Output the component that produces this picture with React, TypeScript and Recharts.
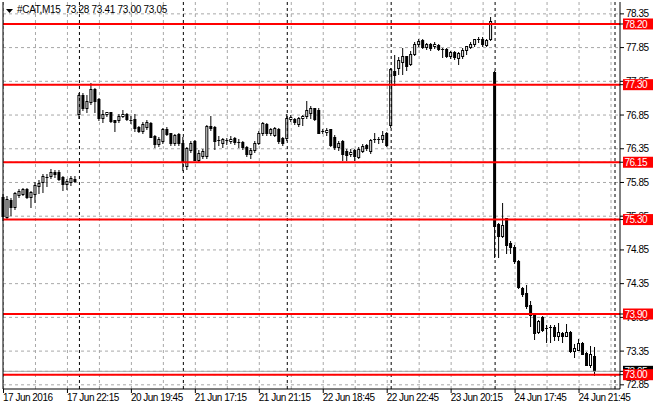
import { ComposedChart, Bar, XAxis, YAxis, ReferenceLine, CartesianGrid } from 'recharts';

// #CAT M15, 17 Jun 18:15 .. 24 Jun 22:45 (2016)
const opens = [
  75.63, 75.34, 75.59, 75.48, 75.67, 75.68, 75.75, 75.63, 75.68, 75.80, 75.85, 75.93, 75.94, 76.00, 76.00, 75.93, 75.83, 75.85, 75.90,
  76.86, 77.14, 76.95, 77.05, 77.23, 77.09, 76.80, 76.86, 76.89, 76.77, 76.77, 76.84, 76.87, 76.77, 76.79, 76.68, 76.62, 76.68, 76.73, 76.54, 76.42, 76.47, 76.65, 76.58, 76.43, 76.57,
  76.44, 76.10, 76.33, 76.46, 76.19, 76.24, 76.24, 76.69, 76.68, 76.48, 76.44, 76.48, 76.47, 76.51, 76.45, 76.45, 76.38, 76.27, 76.33, 76.44, 76.58, 76.72, 76.58, 76.55, 76.64, 76.51,
  76.51, 76.79, 76.79, 76.71, 76.81, 76.83, 76.88, 76.95, 76.93, 76.62, 76.60, 76.64, 76.53, 76.38, 76.46, 76.31, 76.27, 76.33, 76.23, 76.32, 76.40, 76.31, 76.49, 76.50, 76.49, 76.58,
  76.70, 77.50, 77.55, 77.64, 77.72, 77.61, 77.76, 77.91, 77.96, 77.86, 77.91, 77.88, 77.89, 77.83, 77.83, 77.73, 77.78, 77.69, 77.73, 77.82, 77.86, 77.90, 77.96, 77.98, 77.89, 77.97,
  77.49, 75.23, 75.05, 75.32, 74.96, 74.90, 74.68, 74.28, 74.21, 74.03, 73.88, 73.63, 73.85, 73.69, 73.70, 73.70, 73.57, 73.62, 73.58, 73.63, 73.35, 73.37, 73.47, 73.32, 73.14, 73.28,
];
const highs = [
  75.68, 75.65, 75.62, 75.71, 75.75, 75.77, 75.77, 75.72, 75.85, 75.88, 75.97, 75.98, 76.05, 76.03, 76.03, 75.95, 75.90, 75.94, 75.95,
  77.17, 77.17, 77.15, 77.32, 77.25, 77.10, 76.92, 76.90, 76.90, 76.78, 76.86, 76.93, 76.88, 76.83, 76.87, 76.69, 76.74, 76.77, 76.74, 76.56, 76.52, 76.66, 76.67, 76.59, 76.57, 76.58,
  76.52, 76.38, 76.46, 76.48, 76.33, 76.34, 76.70, 76.83, 76.69, 76.54, 76.51, 76.51, 76.54, 76.53, 76.50, 76.47, 76.39, 76.36, 76.46, 76.61, 76.75, 76.73, 76.66, 76.68, 76.66, 76.53,
  76.86, 76.85, 76.80, 76.82, 76.85, 77.06, 76.98, 76.96, 76.95, 76.65, 76.66, 76.65, 76.55, 76.47, 76.48, 76.34, 76.35, 76.35, 76.37, 76.42, 76.42, 76.49, 76.58, 76.53, 76.61, 76.60,
  77.55, 77.74, 77.71, 77.85, 77.73, 77.80, 77.93, 77.97, 77.97, 77.92, 77.92, 77.94, 77.90, 77.84, 77.84, 77.80, 77.80, 77.78, 77.85, 77.88, 77.93, 77.98, 78.00, 78.00, 77.98, 78.30,
  77.50, 75.25, 75.55, 75.33, 74.98, 74.92, 74.70, 74.30, 74.33, 74.10, 73.91, 73.81, 73.87, 73.74, 73.73, 73.74, 73.76, 73.64, 73.75, 73.65, 73.46, 73.53, 73.48, 73.33, 73.42, 73.41,
];
const lows = [
  75.30, 75.32, 75.37, 75.46, 75.64, 75.66, 75.62, 75.49, 75.56, 75.69, 75.71, 75.80, 75.91, 75.93, 75.88, 75.74, 75.76, 75.81, 75.85,
  76.81, 76.93, 76.89, 77.02, 76.89, 76.78, 76.74, 76.84, 76.74, 76.62, 76.74, 76.82, 76.77, 76.73, 76.61, 76.60, 76.59, 76.65, 76.52, 76.38, 76.39, 76.44, 76.55, 76.41, 76.40, 76.41,
  76.03, 76.05, 76.30, 76.18, 76.17, 76.21, 76.22, 76.63, 76.34, 76.40, 76.38, 76.42, 76.43, 76.42, 76.38, 76.34, 76.24, 76.21, 76.30, 76.42, 76.56, 76.56, 76.56, 76.54, 76.44, 76.40,
  76.48, 76.76, 76.72, 76.69, 76.70, 76.81, 76.81, 76.78, 76.58, 76.58, 76.55, 76.39, 76.35, 76.33, 76.18, 76.18, 76.25, 76.18, 76.21, 76.30, 76.33, 76.28, 76.45, 76.44, 76.45, 76.39,
  76.68, 77.29, 77.46, 77.46, 77.52, 77.59, 77.74, 77.88, 77.85, 77.83, 77.82, 77.85, 77.81, 77.71, 77.71, 77.70, 77.68, 77.61, 77.70, 77.75, 77.84, 77.88, 77.94, 77.87, 77.87, 77.96,
  74.75, 74.75, 75.04, 74.80, 74.81, 74.66, 74.28, 74.16, 73.99, 73.72, 73.53, 73.62, 73.65, 73.49, 73.48, 73.51, 73.51, 73.49, 73.57, 73.34, 73.26, 73.36, 73.30, 73.14, 73.12, 73.00,
];
const closes = [
  75.36, 75.60, 75.48, 75.69, 75.73, 75.75, 75.64, 75.71, 75.82, 75.84, 75.94, 75.91, 76.00, 75.97, 75.90, 75.83, 75.87, 75.91, 75.87,
  77.15, 76.95, 77.06, 77.23, 77.06, 76.80, 76.86, 76.89, 76.76, 76.75, 76.84, 76.87, 76.79, 76.76, 76.66, 76.62, 76.71, 76.75, 76.53, 76.42, 76.50, 76.65, 76.57, 76.43, 76.56, 76.43,
  76.17, 76.36, 76.44, 76.19, 76.29, 76.31, 76.69, 76.66, 76.47, 76.47, 76.49, 76.48, 76.50, 76.45, 76.44, 76.37, 76.27, 76.33, 76.44, 76.58, 76.73, 76.58, 76.65, 76.66, 76.46, 76.44,
  76.80, 76.82, 76.74, 76.80, 76.83, 76.92, 76.95, 76.79, 76.59, 76.60, 76.63, 76.41, 76.38, 76.44, 76.27, 76.26, 76.30, 76.24, 76.35, 76.39, 76.36, 76.48, 76.50, 76.48, 76.55, 76.41,
  77.53, 77.45, 77.67, 77.72, 77.57, 77.76, 77.91, 77.95, 77.86, 77.90, 77.85, 77.91, 77.83, 77.81, 77.73, 77.78, 77.71, 77.77, 77.82, 77.87, 77.91, 77.97, 77.98, 77.90, 77.96, 78.24,
  75.20, 75.06, 75.22, 74.93, 74.89, 74.68, 74.30, 74.20, 74.02, 73.89, 73.62, 73.79, 73.67, 73.68, 73.69, 73.57, 73.64, 73.57, 73.63, 73.35, 73.40, 73.47, 73.31, 73.15, 73.30, 73.05,
];

const timeTicks = [0, 16, 32, 48, 64, 80, 96, 112, 128, 144];
const timeLabels = [
  '17 Jun 2016', '17 Jun 22:15', '20 Jun 19:45', '21 Jun 17:15', '21 Jun 21:15',
  '22 Jun 18:45', '22 Jun 22:45', '23 Jun 20:15', '24 Jun 17:45', '24 Jun 21:45',
];
const gridBars = [8, 16, 24, 32, 40, 48, 56, 64, 72, 80, 88, 96, 104, 112, 120, 128, 136, 144, 152];
const daySeparators = [19, 45, 71, 97, 123, 153];
const priceTicks = [72.85, 73.35, 73.85, 74.35, 74.85, 75.35, 75.85, 76.35, 76.85, 77.35, 77.85, 78.35];
const levels = [78.2, 77.3, 76.15, 75.3, 73.9, 73.0];
const bidPrice = 73.05;

const TOTAL_SLOTS = 155;
const data = Array.from({ length: TOTAL_SLOTS }, (_, i) =>
  i < opens.length
    ? { i, o: opens[i], h: highs[i], l: lows[i], c: closes[i], range: [lows[i], highs[i]] }
    : { i, range: null }
);

const FONT = "'Liberation Sans', Arial, sans-serif";
const GRID = '#a8a8a8';
const last = opens.length - 1;
const DOMAIN: [number, number] = [72.788, 78.526];
const PLOT_TOP = 2;

// x ticks: every grid column (drives the grid), labels only on timeTicks
const xTicks = Array.from(new Set([0, ...timeTicks, ...gridBars])).sort((a, b) => a - b);
// price ticks first, then bid / level tags so they are painted on top
const axisTicks = [...priceTicks, bidPrice, ...levels];

const Candle = (p: any) => {
  const { x, y, width, height, payload } = p;
  if (!payload || payload.o == null) return null;
  const { o, h, l, c } = payload;
  const k = height / (h - l || 1);
  const py = (v: number) => y + (h - v) * k;
  const cx = x + width / 2;
  const top = Math.round(py(Math.max(o, c)));
  const bot = Math.round(py(Math.min(o, c)));
  const wickTop = Math.round(py(h));
  const wickBot = Math.round(py(l));
  const up = c >= o;
  return (
    <g>
      <line x1={cx} x2={cx} y1={wickTop} y2={wickBot + 1} stroke="#000" strokeWidth={1} />
      {bot - top < 2 ? (
        <line x1={cx - 1.5} x2={cx + 1.5} y1={top + 0.5} y2={top + 0.5} stroke="#000" strokeWidth={1} />
      ) : up ? (
        <rect x={cx - 1} y={top + 0.5} width={2} height={bot - top} fill="#fff" stroke="#000" strokeWidth={1} />
      ) : (
        <rect x={cx - 1.5} y={top} width={3} height={bot - top + 1} fill="#000" />
      )}
    </g>
  );
};

const TimeTick = (p: any) => {
  const idx = timeTicks.indexOf(p.payload.value);
  if (idx < 0) return null;
  return (
    <g>
      <path d={`M${p.x},${p.y - 5}V${p.y - 1}`} stroke="#000" strokeWidth={1} fill="none" />
      <text x={p.x - 0.5} y={p.y} dy="0.71em" fontSize={10} fontFamily={FONT} letterSpacing={-0.5} fill="#000" textAnchor="start">
        {timeLabels[idx]}
      </text>
    </g>
  );
};

const PriceTick = (p: any) => {
  const v = Number(p.payload.value);
  const isLevel = levels.includes(v);
  const isBid = v === bidPrice;
  const text = v.toFixed(2);
  if (isLevel || isBid) {
    const bx = p.x - 3;
    return (
      <g>
        <rect x={bx} y={p.y - 5.5} width={30} height={11} fill={isBid ? '#000' : '#ff0000'} />
        <text x={bx + 1.5} y={p.y} dy="0.355em" fontSize={10} fontFamily={FONT} letterSpacing={-0.5} fill="#fff" textAnchor="start">
          {text}
        </text>
      </g>
    );
  }
  return (
    <text x={p.x} y={p.y} dy="0.355em" fontSize={10} fontFamily={FONT} letterSpacing={-0.5} fill="#000" textAnchor="start">
      {text}
    </text>
  );
};

export default function App() {
  const header = `#CAT,M15  ${opens[last].toFixed(2)} ${highs[last].toFixed(2)} ${lows[last].toFixed(2)} ${closes[last].toFixed(2)}`;
  return (
    <div style={{ position: 'absolute', left: 0, top: 0, width: 660, height: 410, background: '#fff' }}>
      <ComposedChart width={660} height={410} data={data} margin={{ top: PLOT_TOP, right: 0, bottom: 0, left: 0 }} barCategoryGap={0}>
        <CartesianGrid stroke={GRID} strokeDasharray="3 3" syncWithTicks />
        <XAxis
          dataKey="i"
          type="category"
          ticks={xTicks}
          interval={0}
          height={21}
          tickSize={4}
          tickMargin={1}
          tickLine={false}
          padding={{ left: -1.5, right: -1 }}
          axisLine={{ stroke: '#000' }}
          tick={<TimeTick />}
        />
        <YAxis
          orientation="right"
          type="number"
          domain={DOMAIN}
          allowDataOverflow
          ticks={axisTicks}
          interval={0}
          width={40}
          tickSize={4}
          tickMargin={2}
          axisLine={{ stroke: '#000' }}
          tickLine={{ stroke: '#000' }}
          tick={<PriceTick />}
        />
        <YAxis
          yAxisId="edge"
          orientation="left"
          type="number"
          domain={DOMAIN}
          width={3}
          tick={false}
          tickLine={false}
          axisLine={{ stroke: '#000' }}
        />
        <Bar dataKey="range" barSize={3} shape={<Candle />} isAnimationActive={false} />
        {daySeparators.map((d) => (
          <ReferenceLine key={'d' + d} x={d} stroke="#000" strokeDasharray="3 3" />
        ))}
        <ReferenceLine y={bidPrice} stroke={GRID} />
        {levels.map((lv) => (
          <ReferenceLine key={'l' + lv} y={lv} stroke="#ff0000" strokeWidth={2} />
        ))}
      </ComposedChart>
      <div
        style={{
          position: 'absolute', left: 6, top: 4, fontFamily: FONT, fontSize: 10, lineHeight: '12px',
          letterSpacing: -0.3, whiteSpace: 'pre', color: '#000', display: 'flex', alignItems: 'center',
        }}
      >
        <svg width={11} height={12} style={{ display: 'block' }}>
          <polygon points="0,5 7,5 3.5,9" fill="#000" />
        </svg>
        <span>{header}</span>
      </div>
    </div>
  );
}
